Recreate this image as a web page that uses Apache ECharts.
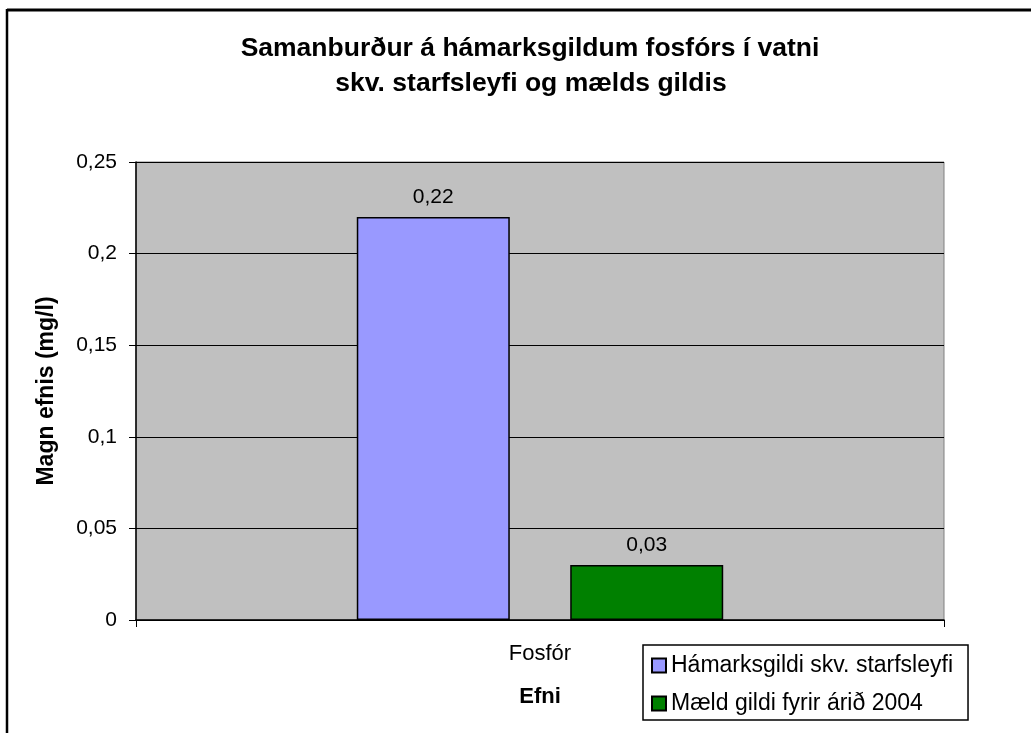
<!DOCTYPE html>
<html><head><meta charset="utf-8">
<script src="https://cdn.jsdelivr.net/npm/echarts@6/dist/echarts.min.js"></script>
<style>html,body{margin:0;padding:0;background:#fff}#c{width:1031px;height:733px}</style>
</head><body><div id="c"></div>
<script>
const categories = ['Fosfór'];
const seriesNames = ['Hámarksgildi skv. starfsleyfi', 'Mæld gildi fyrir árið 2004'];
const limitValues = [0.22];
const measuredValues = [0.03];
const yTicks = [0, 0.05, 0.1, 0.15, 0.2, 0.25];
const titleLines = ['Samanburður á hámarksgildum fosfórs í vatni', 'skv. starfsleyfi og mælds gildis'];
const yName = 'Magn efnis (mg/l)';
const xName = 'Efni';

const FONT = '"Liberation Sans", Arial, sans-serif';
const fmt = v => String(v).replace('.', ',');

const chart = echarts.init(document.getElementById('c'), null, {renderer: 'canvas'});
chart.setOption({
  animation: false,
  backgroundColor: '#fff',
  textStyle: {fontFamily: FONT},
  graphic: [
    {type: 'line', shape: {x1: 7, y1: 10, x2: 1031, y2: 10}, style: {stroke: '#000', lineWidth: 3}, silent: true, z: 100},
    {type: 'line', shape: {x1: 7, y1: 9, x2: 7, y2: 733}, style: {stroke: '#000', lineWidth: 2.5}, silent: true, z: 100},
    {type: 'text', x: 530, y: 49, style: {text: titleLines[0], fontFamily: FONT, fontSize: 26.5, fontWeight: 'bold', fill: '#000', textAlign: 'center', textVerticalAlign: 'middle'}, silent: true},
    {type: 'text', x: 531, y: 84, style: {text: titleLines[1], fontFamily: FONT, fontSize: 26.5, fontWeight: 'bold', fill: '#000', textAlign: 'center', textVerticalAlign: 'middle'}, silent: true}
  ],
  legend: {
    orient: 'vertical', left: 643, top: 645,
    borderColor: '#000', borderWidth: 1.5, padding: [9, 15, 5, 8],
    backgroundColor: '#fff',
    itemWidth: 14, itemHeight: 14, itemGap: 15,
    icon: 'rect',
    textStyle: {fontFamily: FONT, fontSize: 23, color: '#000'},
    data: seriesNames
  },
  grid: {left: 136, right: 87, top: 162, bottom: 113, show: true,
    backgroundColor: '#C0C0C0', borderColor: '#808080', borderWidth: 1},
  xAxis: {
    type: 'category', data: categories,
    name: xName, nameLocation: 'middle', nameGap: 66,
    nameTextStyle: {fontFamily: FONT, fontSize: 22, fontWeight: 'bold', color: '#000'},
    axisLine: {lineStyle: {color: '#000', width: 1.5}},
    axisTick: {show: true, length: 7, lineStyle: {color: '#000'}},
    axisLabel: {margin: 23, fontFamily: FONT, fontSize: 22, color: '#000'},
    splitLine: {show: false}
  },
  yAxis: {
    type: 'value', min: 0, max: 0.25, interval: 0.05,
    name: yName, nameLocation: 'middle', nameGap: 78, nameRotate: 90,
    nameTextStyle: {fontFamily: FONT, fontSize: 23, fontWeight: 'bold', color: '#000'},
    axisLine: {show: true, lineStyle: {color: '#000', width: 1.5}},
    axisTick: {show: true, length: 7, lineStyle: {color: '#000'}},
    axisLabel: {margin: 19, fontFamily: FONT, fontSize: 21, color: '#000',
      formatter: v => yTicks.includes(Math.round(v*100)/100) ? fmt(Math.round(v*100)/100) : ''},
    splitLine: {show: true, lineStyle: {color: '#000', width: 1}}
  },
  series: [
    {name: seriesNames[0], type: 'bar', data: limitValues, barWidth: 153, barGap: '39.5%',
      itemStyle: {color: '#9999FF', borderColor: '#000', borderWidth: 1.5},
      label: {show: true, position: 'top', distance: 9, fontFamily: FONT, fontSize: 21, color: '#000', formatter: p => fmt(p.value)}},
    {name: seriesNames[1], type: 'bar', data: measuredValues, barWidth: 153,
      itemStyle: {color: '#008000', borderColor: '#000', borderWidth: 1.5},
      label: {show: true, position: 'top', distance: 9, fontFamily: FONT, fontSize: 21, color: '#000', formatter: p => fmt(p.value)}}
  ]
});
</script></body></html>
